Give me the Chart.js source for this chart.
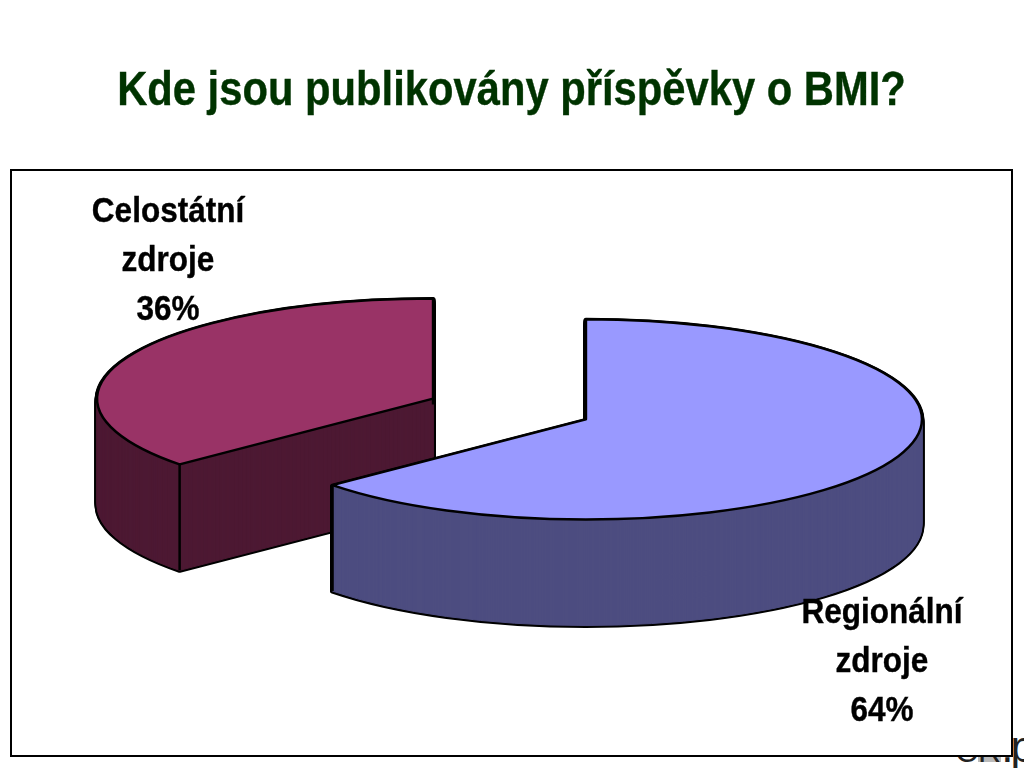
<!DOCTYPE html>
<html lang="cs">
<head>
    <meta charset="UTF-8">
    <title>Kde jsou publikovány příspěvky o BMI?</title>
    <script src="https://cdn.jsdelivr.net/npm/chart.js"></script>
    <style>
        html, body { margin: 0; padding: 0; background: #fff; overflow: hidden; }
        #stage { position: relative; width: 1024px; height: 768px; overflow: hidden; }
        #stray { position: absolute; left: 955px; top: 725px; font: 44px/44px "Liberation Sans", sans-serif; color: #222; white-space: nowrap; }
        #stray span { font-size: 32px; }
        #stray b { font-size: 32px; font-weight: normal; background: linear-gradient(#bbb, #bbb) no-repeat; background-size: 100% 29px; }
        #stray i { font-style: normal; margin-left: -3px; }
        #frame { position: absolute; left: 10px; top: 169px; width: 999px; height: 584px; border: 2px solid #000; background: #fff; }
        canvas { position: absolute; left: 0; top: 0; }
    </style>
</head>
<body>
<div id="stage">
    <div id="stray"><span>C</span><b>R</b>.<i>p</i></div>
    <div id="frame"></div>
    <canvas id="pieChart" width="1024" height="768"></canvas>
</div>
<script>
    const titleText = 'Kde jsou publikovány příspěvky o BMI?';
    const sliceNames = ['Regionální zdroje', 'Celostátní zdroje'];
    const sliceValues = [63.6, 36.4];
    const topColors = ['#9999ff', '#993366'];
    const wallColors = ['#4d4d80', '#4d1933'];

    // fake 3D look, pie is squashed and extruded
    const pieX = 509.5, pieY = 409;
    const tilt = 0.298, depth = 106, explode = 84;
    const labelPos = [[882, 623], [168, 222]];
    const fontFamily = '"Liberation Sans", sans-serif';

    function arcCenter(arc) {
        const mid = (arc.startAngle + arc.endAngle) / 2;
        return [pieX + Math.cos(mid) * explode, pieY + Math.sin(mid) * explode * tilt];
    }

    function tracePie(ctx, arc, dy) {
        const [cx, cy] = arcCenter(arc);
        ctx.beginPath();
        ctx.moveTo(cx, cy + dy);
        ctx.ellipse(cx, cy + dy, arc.outerRadius, arc.outerRadius * tilt, 0, arc.startAngle, arc.endAngle);
        ctx.closePath();
    }

    // no narrow font installed, so the text gets squeezed sideways
    function narrowText(ctx, text, x, y, squeeze) {
        ctx.save();
        ctx.translate(x, y);
        ctx.scale(squeeze, 1);
        ctx.fillText(text, 0, 0);
        ctx.strokeText(text, 0, 0);
        ctx.restore();
    }

    const pie3d = {
        id: 'pie3d',
        beforeDatasetsDraw(chart) {
            const ctx = chart.ctx;
            const arcs = chart.getDatasetMeta(0).data;
            ctx.save();
            ctx.lineJoin = 'round';
            // back slice first, the blue one sits in front of it
            for (let i = arcs.length - 1; i >= 0; i--) {
                const arc = arcs[i];
                const [cx, cy] = arcCenter(arc);

                // silhouette of the wall
                ctx.strokeStyle = '#000';
                ctx.lineWidth = 5;
                for (let dy = depth; dy >= 1; dy -= 1) {
                    tracePie(ctx, arc, dy);
                    ctx.stroke();
                }
                ctx.fillStyle = wallColors[i];
                ctx.strokeStyle = wallColors[i];
                ctx.lineWidth = 1;
                for (let dy = depth; dy >= 0; dy -= 1) {
                    tracePie(ctx, arc, dy);
                    ctx.stroke();
                    ctx.fill();
                }

                // vertical edges at the cut
                ctx.strokeStyle = '#000';
                ctx.lineWidth = 2.5;
                [arc.startAngle, arc.endAngle].forEach(function (a) {
                    const ex = cx + Math.cos(a) * arc.outerRadius;
                    const ey = cy + Math.sin(a) * arc.outerRadius * tilt;
                    ctx.beginPath();
                    ctx.moveTo(ex, ey);
                    ctx.lineTo(ex, ey + depth);
                    ctx.stroke();
                });

                // top face
                ctx.save();
                ctx.translate(cx, cy);
                ctx.scale(1, tilt);
                ctx.translate(-arc.x, -arc.y);
                arc.draw(ctx);
                ctx.restore();

                tracePie(ctx, arc, 0);
                ctx.stroke();
            }
            ctx.restore();
            return false;
        },
        afterDraw(chart) {
            const ctx = chart.ctx;
            ctx.save();
            ctx.textAlign = 'center';
            ctx.textBaseline = 'alphabetic';
            ctx.lineWidth = 0.4;

            ctx.font = 'bold 49px ' + fontFamily;
            ctx.fillStyle = '#003300';
            ctx.strokeStyle = '#003300';
            narrowText(ctx, titleText, 511.5, 105, 0.852);

            ctx.font = 'bold 35px ' + fontFamily;
            ctx.fillStyle = '#000';
            ctx.strokeStyle = '#000';
            sliceNames.forEach(function (name, i) {
                const lines = name.split(' ').concat(Math.round(sliceValues[i]) + '%');
                lines.forEach(function (line, n) {
                    narrowText(ctx, line, labelPos[i][0], labelPos[i][1] + n * 49, 0.9);
                });
            });
            ctx.restore();
        }
    };

    new Chart(document.getElementById('pieChart').getContext('2d'), {
        type: 'pie',
        data: {
            labels: sliceNames,
            datasets: [{
                data: sliceValues,
                backgroundColor: topColors,
                borderWidth: 0
            }]
        },
        options: {
            responsive: false,
            animation: false,
            radius: 336,
            plugins: {
                legend: { display: false },
                tooltip: { enabled: false }
            }
        },
        plugins: [pie3d]
    });
</script>
</body>
</html>
